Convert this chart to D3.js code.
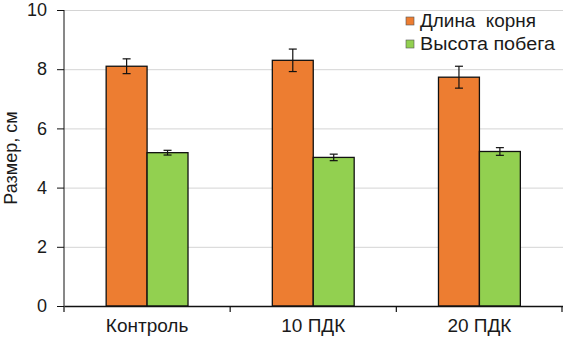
<!DOCTYPE html>
<html><head><meta charset="utf-8">
<script src="https://cdn.jsdelivr.net/npm/d3@7"></script>
<style>body{margin:0;background:#fff}svg{display:block}text{font-family:"Liberation Sans",Arial,sans-serif;fill:#1a1a1a}</style>
</head><body>
<script>
const categories = ["Контроль", "10 ПДК", "20 ПДК"];
const seriesNames = ["Длина  корня", "Высота побега"];
const rootLength = [8.1, 8.3, 7.73];
const rootErr = [0.25, 0.38, 0.37];
const shootHeight = [5.18, 5.02, 5.22];
const shootErr = [0.08, 0.11, 0.13];
const yTicks = [0, 2, 4, 6, 8, 10];
const colors = ["#ED7D31", "#92D050"];

const W = 563, H = 342;
const m = {left: 64, right: 0.5, top: 10, bottom: 36};
const svg = d3.select("body").append("svg").attr("width", W).attr("height", H);

const x = d3.scaleBand().domain(categories).range([m.left, W - m.right]).paddingInner(0).paddingOuter(0);
const x1 = d3.scaleBand().domain(seriesNames).range([0, x.bandwidth()]).paddingInner(0).paddingOuter(1.03);
const y = d3.scaleLinear().domain([0, 10]).range([H - m.bottom, m.top]);

// gridlines
svg.append("g").selectAll("line").data(yTicks.filter(d => d > 0)).join("line")
  .attr("x1", m.left).attr("x2", W).attr("y1", d => y(d) + 0.5).attr("y2", d => y(d) + 0.5)
  .attr("stroke", "#d4d4d4").attr("stroke-width", 1);

const data = categories.map((c, i) => ({c, vals: [
  {s: seriesNames[0], v: rootLength[i], e: rootErr[i], col: colors[0]},
  {s: seriesNames[1], v: shootHeight[i], e: shootErr[i], col: colors[1]}]}));

const g = svg.append("g").selectAll("g").data(data).join("g")
  .attr("transform", d => `translate(${x(d.c)},0)`);
g.selectAll("rect").data(d => d.vals).join("rect")
  .attr("x", d => x1(d.s)).attr("width", x1.bandwidth())
  .attr("y", d => y(d.v)).attr("height", d => y(0) - y(d.v))
  .attr("fill", d => d.col).attr("stroke", "#111").attr("stroke-width", 1.3);

// error bars
const eb = g.selectAll("g.eb").data(d => d.vals).join("g").attr("class", "eb")
  .attr("stroke", "#111").attr("stroke-width", 1.2);
const cx = d => x1(d.s) + x1.bandwidth() / 2;
eb.append("line").attr("x1", cx).attr("x2", cx)
  .attr("y1", d => y(d.v + d.e)).attr("y2", d => y(d.v - d.e));
eb.append("line").attr("x1", d => cx(d) - 4).attr("x2", d => cx(d) + 4)
  .attr("y1", d => y(d.v + d.e)).attr("y2", d => y(d.v + d.e));
eb.append("line").attr("x1", d => cx(d) - 4).attr("x2", d => cx(d) + 4)
  .attr("y1", d => y(d.v - d.e)).attr("y2", d => y(d.v - d.e));

// y axis
const ya = svg.append("g").attr("transform", `translate(${m.left},0)`)
  .call(d3.axisLeft(y).tickValues(yTicks).tickSize(7).tickPadding(10).tickFormat(d3.format("d")));
ya.select(".domain").attr("stroke", "#111").attr("d", `M0,${y(10)}V${y(0)}`);
ya.selectAll(".tick line").attr("stroke", "#111");
ya.selectAll("text").attr("font-size", 18).attr("font-family", "Liberation Sans, Arial, sans-serif").attr("fill", "#1a1a1a");

// x axis
const xa = svg.append("g").attr("transform", `translate(0,${y(0)})`)
  .call(d3.axisBottom(x).tickSize(0).tickPadding(13));
xa.select(".domain").attr("stroke", "#111").attr("stroke-width", 1.3);
xa.selectAll("text").attr("font-size", 19).attr("font-family", "Liberation Sans, Arial, sans-serif").attr("fill", "#1a1a1a");
const bounds = categories.map(c => x(c)).concat([x(categories[categories.length - 1]) + x.bandwidth()]);
svg.append("g").selectAll("line").data(bounds).join("line")
  .attr("x1", d => Math.min(d, W - 1)).attr("x2", d => Math.min(d, W - 1))
  .attr("y1", y(0)).attr("y2", y(0) + 6).attr("stroke", "#111").attr("stroke-width", 1.2);

// y label
svg.append("text").attr("transform", `translate(17,${(y(0) + y(10)) / 2}) rotate(-90)`)
  .attr("text-anchor", "middle").attr("font-size", 18).text("Размер, см");

// legend
const lg = svg.append("g").attr("transform", "translate(406,0)");
const legW = [116, 135];
seriesNames.forEach((s, i) => {
  lg.append("rect").attr("x", 0).attr("y", i * 23 + 17).attr("width", 8).attr("height", 8)
    .attr("fill", colors[i]).attr("stroke", "#555").attr("stroke-width", 0.6);
  lg.append("text").attr("x", 14).attr("y", i * 23 + 26.5).attr("font-size", 17.5)
    .attr("textLength", legW[i]).attr("lengthAdjust", "spacingAndGlyphs")
    .attr("xml:space", "preserve").text(s);
});
</script>
</body></html>
